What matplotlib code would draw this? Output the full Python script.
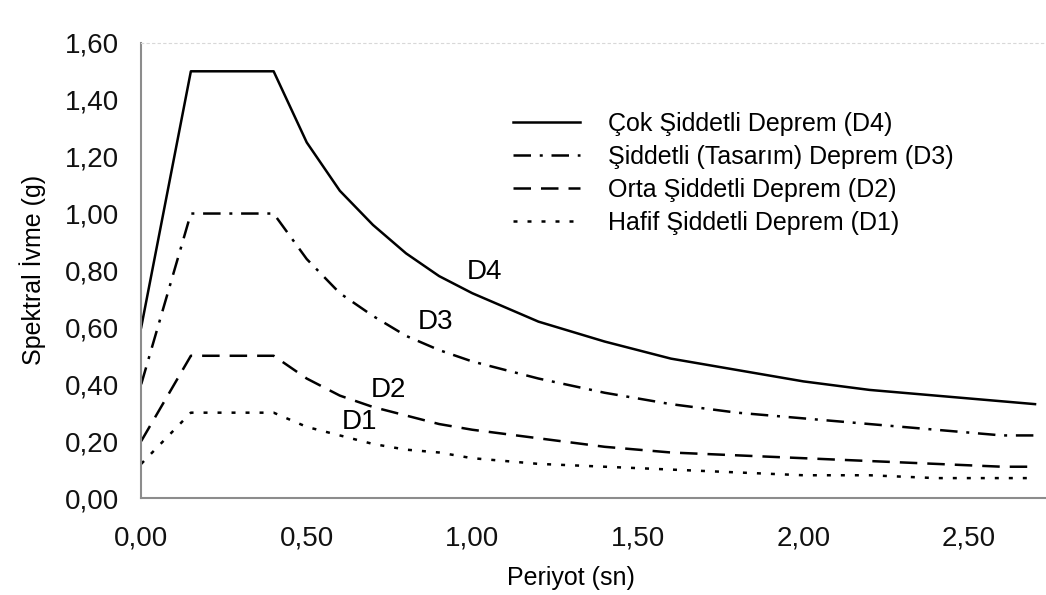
import matplotlib
matplotlib.use("Agg")
import matplotlib.pyplot as plt
from matplotlib.ticker import FuncFormatter, MultipleLocator

plt.rcParams['font.family'] = ['Liberation Sans', 'DejaVu Sans']

# Periyot (sn)
periyot = [0.00, 0.15, 0.40, 0.50, 0.60, 0.70, 0.80, 0.90, 1.00, 1.20, 1.40,
           1.60, 1.80, 2.00, 2.20, 2.40, 2.60, 2.70]

# Spektral ivme (g)
d4 = [0.60, 1.50, 1.50, 1.25, 1.08, 0.96, 0.86, 0.78, 0.72, 0.62, 0.55,
      0.49, 0.45, 0.41, 0.38, 0.36, 0.34, 0.33]
d3 = [0.40, 1.00, 1.00, 0.84, 0.72, 0.64, 0.57, 0.52, 0.48, 0.42, 0.37,
      0.33, 0.30, 0.28, 0.26, 0.24, 0.22, 0.22]
d2 = [0.20, 0.50, 0.50, 0.42, 0.36, 0.32, 0.29, 0.26, 0.24, 0.21, 0.18,
      0.16, 0.15, 0.14, 0.13, 0.12, 0.11, 0.11]
d1 = [0.12, 0.30, 0.30, 0.25, 0.22, 0.19, 0.17, 0.16, 0.14, 0.12, 0.11,
      0.10, 0.09, 0.08, 0.08, 0.07, 0.07, 0.07]

legend_labels = ['Çok Şiddetli Deprem (D4)',
                 'Şiddetli (Tasarım) Deprem (D3)',
                 'Orta Şiddetli Deprem (D2)',
                 'Hafif Şiddetli Deprem (D1)']

fig = plt.figure(figsize=(10.46, 5.95), dpi=100)
ax = fig.add_axes([0.135, 0.163, 0.864, 0.765])

lw = 1.8
ax.plot(periyot, d4, color='black', lw=lw, ls='-', label=legend_labels[0])
ax.plot(periyot, d3, color='black', lw=lw, ls=(0, (7, 3.5, 1.2, 3.5)), label=legend_labels[1])
ax.plot(periyot, d2, color='black', lw=lw, ls=(0, (7, 4)), label=legend_labels[2])
ax.plot(periyot, d1, color='black', lw=lw, ls=(0, (1.6, 4)), label=legend_labels[3])

# curve names on the plot
ax.text(1.036, 0.796, 'D4', fontsize=20, ha='center', va='center')
ax.text(0.889, 0.620, 'D3', fontsize=20, ha='center', va='center')
ax.text(0.747, 0.380, 'D2', fontsize=20, ha='center', va='center')
ax.text(0.660, 0.268, 'D1', fontsize=20, ha='center', va='center')

ax.set_xlim(0, 2.73)
ax.set_ylim(0, 1.6)
ax.xaxis.set_major_locator(MultipleLocator(0.5))
ax.yaxis.set_major_locator(MultipleLocator(0.2))
fmt = FuncFormatter(lambda v, p: f"{v:.2f}".replace('.', ','))
ax.xaxis.set_major_formatter(fmt)
ax.yaxis.set_major_formatter(fmt)
ax.tick_params(axis='both', length=0, labelsize=20, colors='#111111')
ax.tick_params(axis='x', pad=20)
ax.tick_params(axis='y', pad=16)

ax.spines['right'].set_visible(False)
ax.spines['top'].set_color('#d8d8d8')
ax.spines['top'].set_linestyle((0, (2, 3)))
ax.spines['top'].set_linewidth(0.8)
for s in ['left', 'bottom']:
    ax.spines[s].set_color('#8c8c8c')
    ax.spines[s].set_linewidth(1.5)

ax.set_xlabel('Periyot (sn)', fontsize=18)
ax.set_ylabel('Spektral İvme (g)', fontsize=18)
ax.xaxis.set_label_coords(0.475, -0.15)
ax.yaxis.set_label_coords(-0.105, 0.5)

leg = ax.legend(loc='upper left', bbox_to_anchor=(0.40, 0.87), frameon=False,
                fontsize=18, handlelength=2.7, handletextpad=1.1,
                labelspacing=0.36, borderaxespad=0)

plt.savefig('out.png', dpi=100)
